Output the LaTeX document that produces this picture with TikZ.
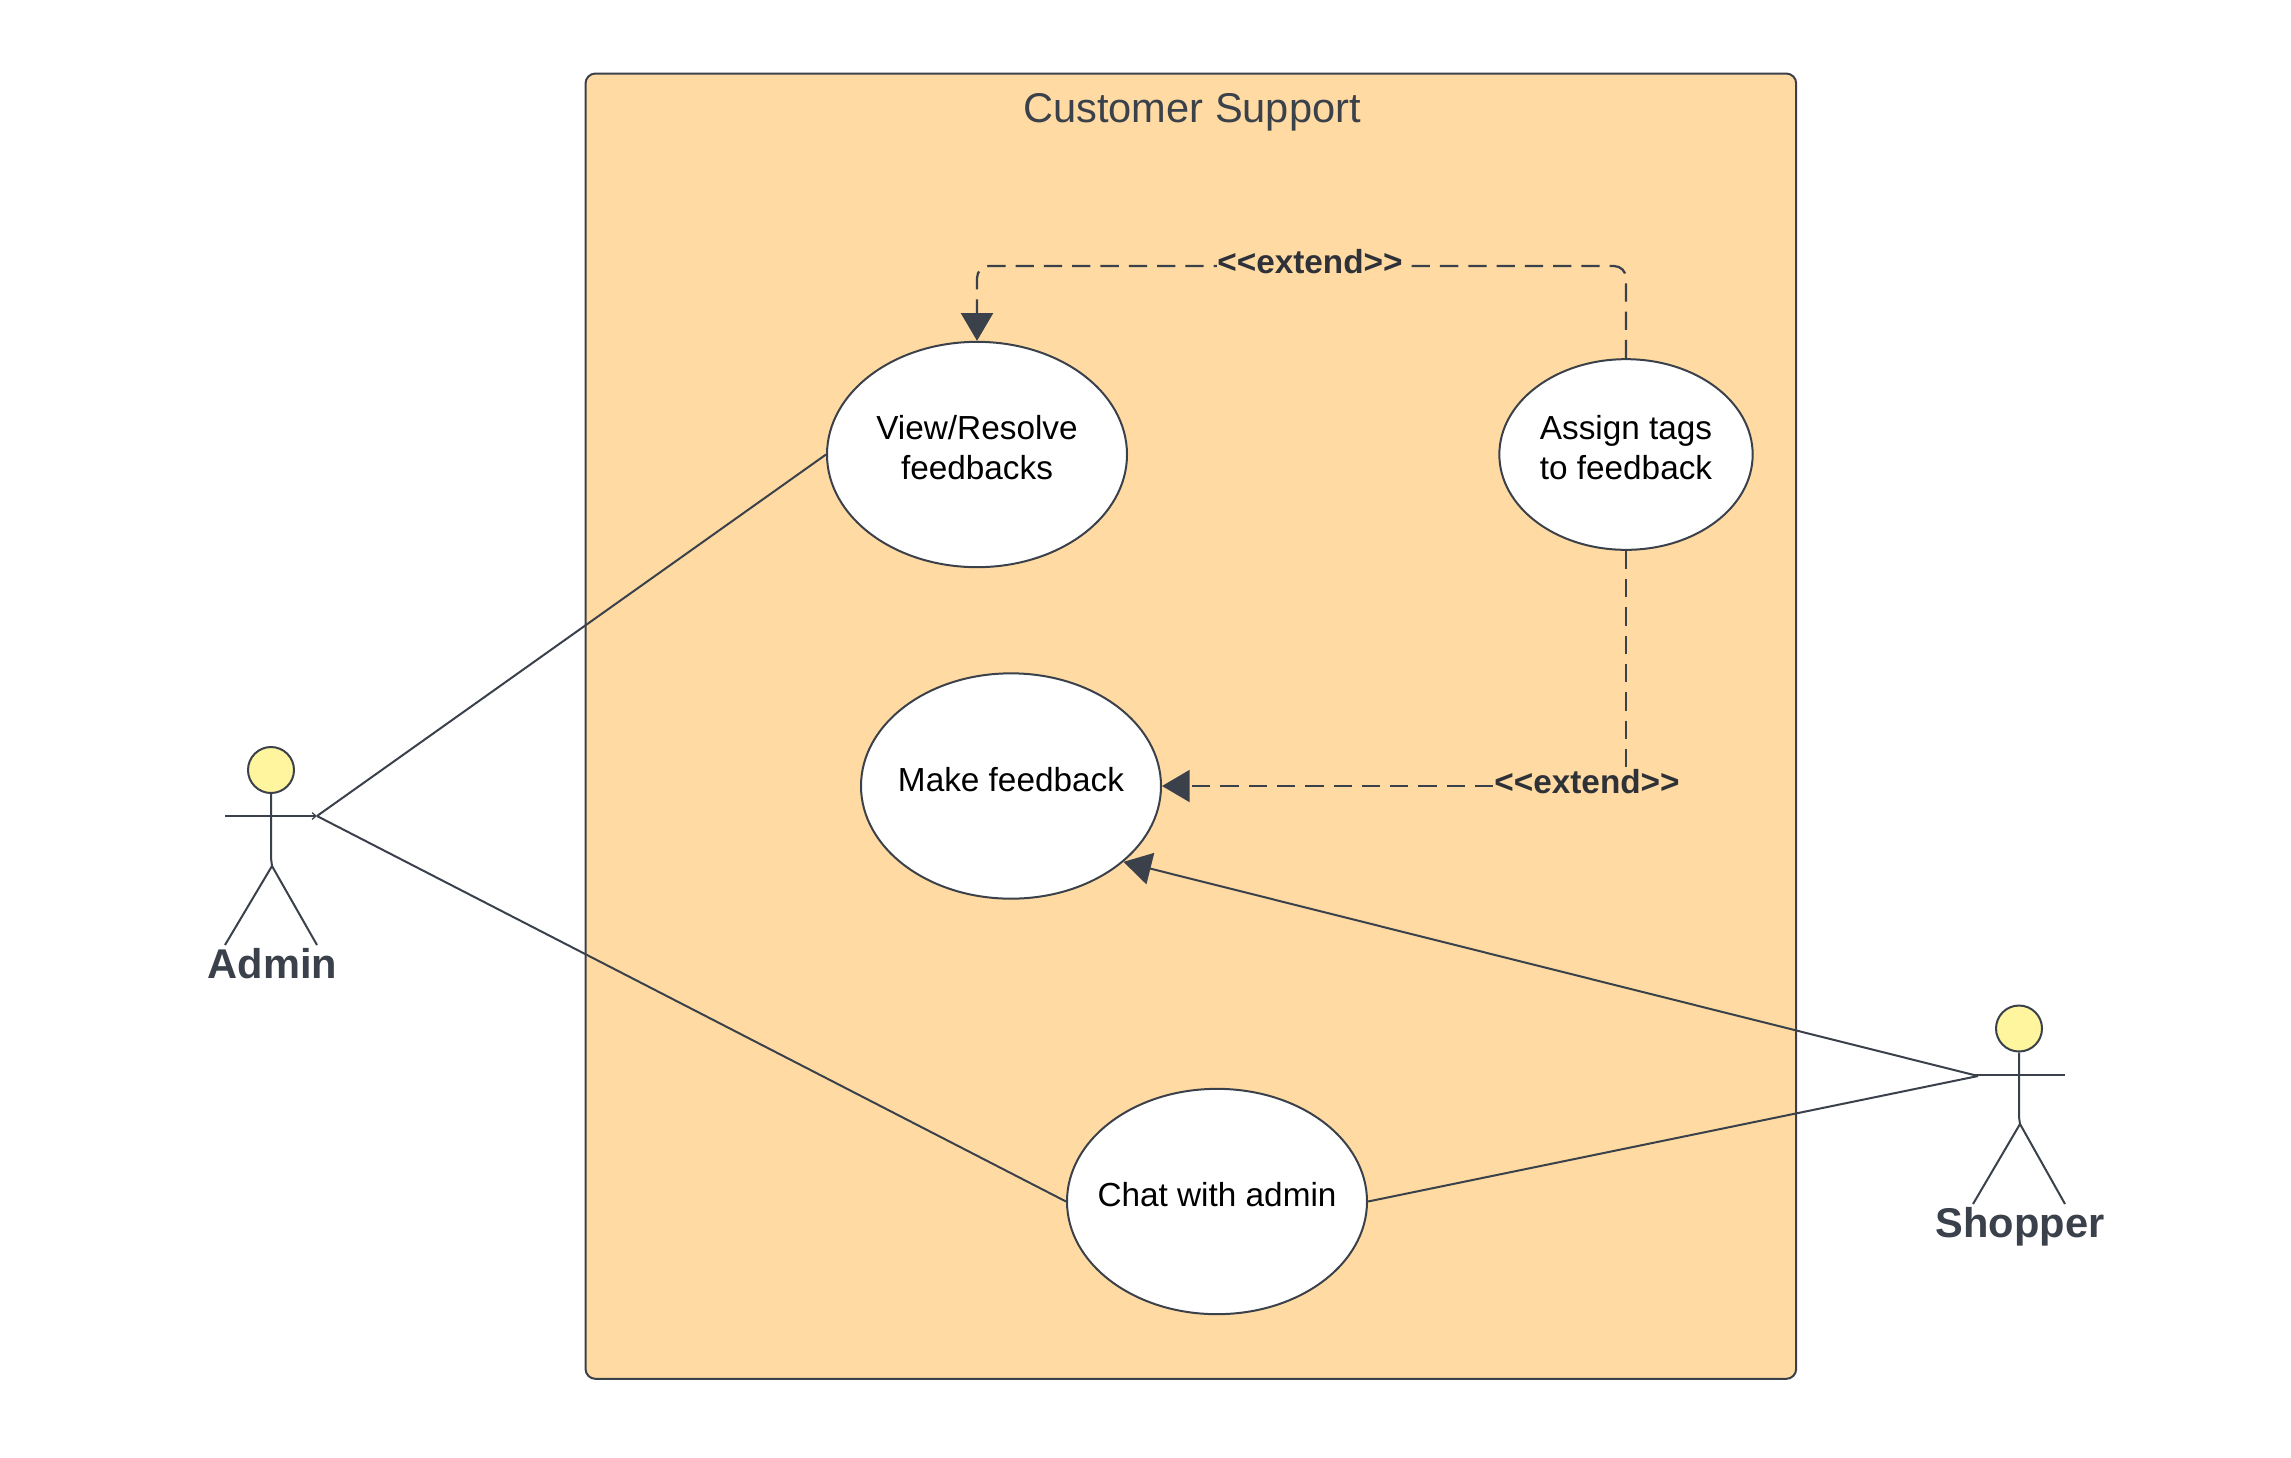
\documentclass[tikz,border=0pt]{standalone}
\usepackage{fontspec}
\setmainfont{Liberation Sans}
\usetikzlibrary{arrows.meta,shapes.geometric}
\definecolor{inkc}{HTML}{3A414A}
\definecolor{framefill}{HTML}{FFDBA3}
\definecolor{headfill}{HTML}{FFF59E}
\definecolor{labelc}{HTML}{2E3238}
\newcommand{\uctext}[1]{\raisebox{-4pt}[0pt][0pt]{\makebox[0pt]{\begin{tabular}{@{}c@{}}#1\end{tabular}}}}
\tikzset{
  line/.style={draw=inkc,line width=1.5pt},
  usecase/.style={ellipse,line,fill=white,text=black,inner sep=0pt,
    font=\fontsize{25}{30}\selectfont},
  bigcase/.style={usecase,minimum width=225pt,minimum height=169pt},
  smallcase/.style={usecase,minimum width=190pt,minimum height=143pt},
  head/.style={circle,line,fill=headfill,inner sep=0pt,minimum size=34.5pt},
  actorname/.style={anchor=base,text=inkc,font=\fontsize{31.2}{36}\selectfont\bfseries},
  extlabel/.style={fill=framefill,inner sep=0pt,text=labelc,font=\fontsize{25}{30}\selectfont\bfseries},
  dashline/.style={line,line width=1.7pt,dash pattern=on 13.72pt off 7.5pt},
  bigtip/.style={-{Triangle[length=20.8pt,width=24pt,fill=inkc]}},
  tinytip/.style={-{Straight Barb[length=3pt,width=5pt,line width=0.9pt]}}
}
\begin{document}
\begin{tikzpicture}[x=0.75pt,y=-0.75pt]
\useasboundingbox (0,0) rectangle (2291,1457);
\fill[white] (0,0) rectangle (2291,1457);
% system frame
\node (frame) [line,fill=framefill,rounded corners=7.5pt,anchor=north west,inner sep=0pt,
  minimum width=908pt,minimum height=979pt] at (584.5,72.5) {};
\node (title) [anchor=base,text=inkc,font=\fontsize{31.2}{36}\selectfont] at (1192,122.5) {Customer Support};
% use cases
\node (view) [bigcase] at (977,454.5) {\uctext{View/Resolve\\feedbacks}};
\node (assign) [smallcase] at (1626,454.5) {\uctext{Assign tags\\to feedback}};
\node (make) [bigcase] at (1011,786) {\uctext{Make feedback}};
\node (chat) [bigcase] at (1217,1201.5) {\uctext{Chat with admin}};
% admin actor
\node (adminhead) [head] at (271,770) {};
\coordinate (adminhip) at (271,858);
\coordinate (adminfork) at (272,866);
\coordinate (adminlarm) at (225,816);
\coordinate (adminrarm) at (317,816);
\coordinate (adminlleg) at (225,945);
\coordinate (adminrleg) at (317,945);
\draw[line] (adminhead) -- (adminhip) -- (adminfork) -- (adminlleg);
\draw[line] (adminfork) -- (adminrleg);
\draw[line,tinytip] (adminlarm) -- (adminrarm);
\node (admin) [actorname] at (272.5,978) {Admin};
% shopper actor
\node (shopperhead) [head] at (2019,1028.5) {};
\coordinate (shopperhip) at (2019,1117);
\coordinate (shopperfork) at (2020,1124);
\coordinate (shopperlarm) at (1973,1075);
\coordinate (shopperrarm) at (2065,1075);
\coordinate (shopperhand) at (1978,1076);
\coordinate (shopperlleg) at (1973,1204);
\coordinate (shopperrleg) at (2065,1204);
\draw[line] (shopperhead) -- (shopperhip) -- (shopperfork) -- (shopperlleg);
\draw[line] (shopperfork) -- (shopperrleg);
\draw[line] (shopperlarm) -- (shopperrarm);
\node (shopper) [actorname] at (2020,1237) {Shopper};
% associations
\draw[line] (view.west) -- (adminrarm);
\draw[line] (chat.west) -- (adminrarm);
\draw[line] (chat.east) -- (shopperhand);
\draw[line,bigtip] (shopperhand) -- (make.-34.5);
% extends
\draw[dashline,bigtip,rounded corners=9pt] (assign.north) -- (assign.north |- 0,266) -- (view.north |- 0,266) -- (view.north);
\draw[dashline,bigtip] (assign.south) -- (assign.south |- make.east) -- (make.east);
\node (ext1) [extlabel] at (1310,262) {<{}<extend>{}>};
\node (ext2) [extlabel] at (1587,782) {<{}<extend>{}>};
\end{tikzpicture}
\end{document}
